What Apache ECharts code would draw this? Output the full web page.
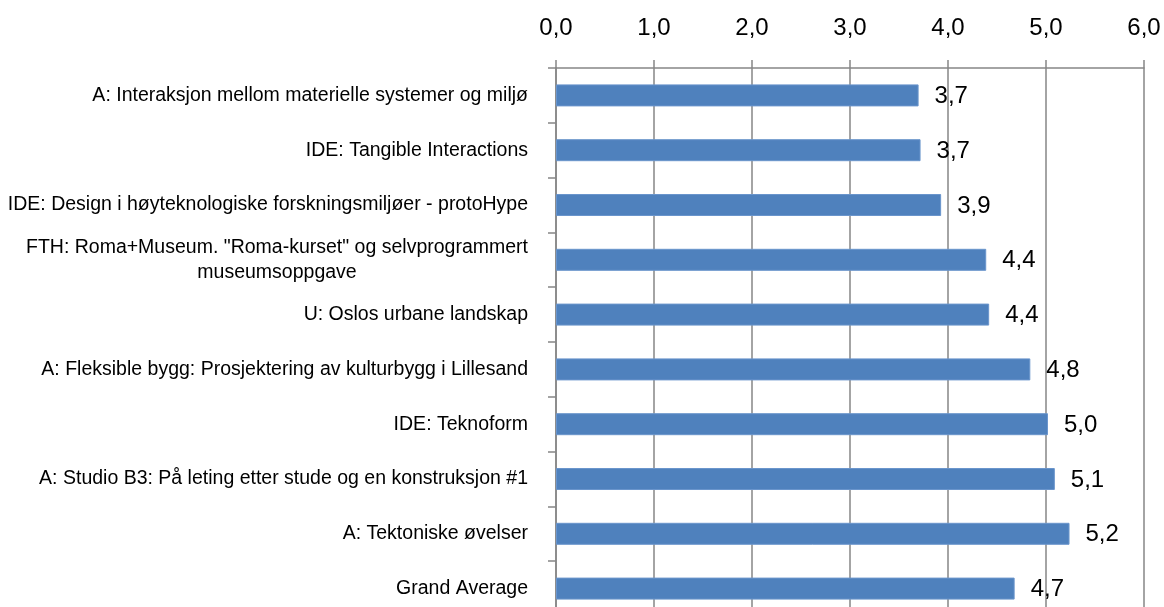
<!DOCTYPE html>
<html>
<head>
    <meta charset="utf-8">
    <title></title>
    <script src="https://cdn.jsdelivr.net/npm/echarts@6/dist/echarts.min.js"></script>
    <style>
        html, body { margin: 0; padding: 0; background: #fff; }
    </style>
</head>
<body>
<div id="main" style="width: 1164px;height:607px;"></div>
<script type="text/javascript">
// kategorier, ovenfra og ned
var courses = [
    'A: Interaksjon mellom materielle systemer og miljø',
    'IDE: Tangible Interactions',
    'IDE: Design i høyteknologiske forskningsmiljøer - protoHype',
    'FTH: Roma+Museum. "Roma-kurset" og selvprogrammert\nmuseumsoppgave',
    'U: Oslos urbane landskap',
    'A: Fleksible bygg: Prosjektering av kulturbygg i Lillesand',
    'IDE: Teknoform',
    'A: Studio B3: På leting etter stude og en konstruksjon #1',
    'A: Tektoniske øvelser',
    'Grand Average'
];
var scores = [3.70, 3.72, 3.93, 4.39, 4.42, 4.84, 5.02, 5.09, 5.24, 4.68];
var ticks = [0, 1, 2, 3, 4, 5, 6];

function comma(v) {
    return v.toFixed(1).replace('.', ',');
}

var myChart = echarts.init(document.getElementById('main'));
myChart.setOption({
    animation: false,
    textStyle: {fontFamily: 'Liberation Sans'},
    grid: {left: 556, right: 20, top: 68, height: 548, outerBoundsMode: 'none'},
    xAxis: {
        type: 'value',
        position: 'top',
        min: ticks[0],
        max: ticks[ticks.length - 1],
        interval: 1,
        axisLine: {show: true, lineStyle: {color: '#868686', width: 1.5}},
        axisTick: {show: true, length: 8, lineStyle: {color: '#868686', width: 1.5}},
        splitLine: {show: true, lineStyle: {color: '#868686', width: 1.5}},
        axisLabel: {
            margin: 28,
            fontSize: 24,
            color: '#000',
            formatter: function (v) { return comma(v); }
        }
    },
    yAxis: {
        type: 'category',
        inverse: true,
        data: courses,
        axisLine: {show: true, lineStyle: {color: '#868686', width: 1.5}},
        axisTick: {show: true, length: 8, lineStyle: {color: '#868686', width: 1.5}},
        axisLabel: {
            margin: 28,
            fontSize: 19.5,
            color: '#000',
            lineHeight: 25,
            formatter: function (v) {
                return v.split('\n').map(function (s) { return '{c|' + s + '}'; }).join('\n');
            },
            rich: {c: {align: 'center', fontSize: 19.5, lineHeight: 25, color: '#000'}}
        }
    },
    series: [{
        type: 'bar',
        data: scores,
        barWidth: 22,
        itemStyle: {color: '#4f81bd', borderColor: '#6a95cc', borderWidth: 1},
        label: {
            show: true,
            position: 'right',
            distance: 16,
            fontSize: 24,
            color: '#000',
            offset: [0, 1],
            formatter: function (p) { return comma(p.value); }
        }
    }]
});
</script>
</body>
</html>
